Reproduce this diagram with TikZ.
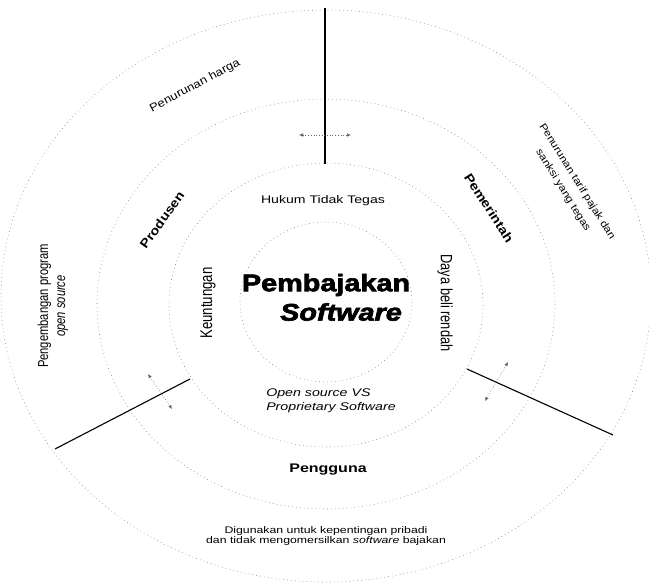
\documentclass[tikz,border=0pt]{standalone}
\usepackage{fontspec}
\setmainfont{Liberation Sans}
\newfontfamily\widefont[FakeStretch=1.15]{Liberation Sans}
\newfontfamily\heavyfont[FakeBold=2.5]{Liberation Sans Bold}
\newfontfamily\heavyitfont[FakeBold=2.5]{Liberation Sans Bold Italic}
\usetikzlibrary{arrows.meta}
\begin{document}
\begin{tikzpicture}[x=1pt,y=-1pt,
  ring/.style={draw=black!50, line width=0.55pt, dash pattern=on 0.7pt off 3.2pt},
  spoke/.style={draw=black, line width=1.1pt},
  dbl/.style={draw=black!60, line width=0.5pt, dash pattern=on 0.7pt off 2pt,
    {Latex[length=4pt,width=3.5pt]}-{Latex[length=4pt,width=3.5pt]}},
  lbl/.style={inner sep=0pt, align=center, text=black},
  fs/.style={font=\fontsize{#1}{#1}\selectfont},
]
\fill[white] (0,0) rectangle (649,584);
\useasboundingbox (0,0) rectangle (649,584);
\begin{scope}
\clip (0,0) rectangle (649,584);
\draw[ring] (326,302) ellipse [x radius=86, y radius=80];
\draw[ring] (326,305) ellipse [x radius=157, y radius=142];
\draw[ring] (326,304) ellipse [x radius=229, y radius=205];
\draw[ring] (326,296) ellipse [x radius=325, y radius=286];
\end{scope}

% spokes
\coordinate (topOut) at (325,8);
\coordinate (topIn) at (325,164);
\coordinate (leftIn) at (190,379);
\coordinate (leftOut) at (55,449);
\coordinate (rightIn) at (467,369);
\coordinate (rightOut) at (613,435);
\draw[spoke] (topOut) -- (topIn);
\draw[spoke] (leftIn) -- (leftOut);
\draw[spoke] (rightIn) -- (rightOut);

% small double arrows across spokes
\coordinate (ta) at (299,135);
\coordinate (tb) at (351,135);
\coordinate (la) at (148,374);
\coordinate (lb) at (172,409);
\coordinate (ra) at (508,362);
\coordinate (rb) at (485,401);
\draw[dbl] (ta) -- (tb);
\draw[dbl] (la) -- (lb);
\draw[dbl] (ra) -- (rb);

% texts
\node[lbl, font=\widefont\fontsize{11.3}{11.3}\selectfont, rotate=28] (harga) at (195,86) {Penurunan harga};
\node[lbl, fs=11, xscale=1.28] (hukum) at (323,201) {Hukum Tidak Tegas};
\node[lbl, font=\widefont\bfseries\fontsize{12.5}{12.5}\selectfont, rotate=54] (produsen) at (162,220) {Produsen};
\node[lbl, font=\widefont\bfseries\fontsize{12.7}{12.7}\selectfont, rotate=-57] (pemerintah) at (489,208) {Pemerintah};
\node[lbl, font=\widefont\fontsize{10.2}{16.5}\selectfont, rotate=-58] (tarif) at (570,186) {Penurunan tarif pajak dan\\sanksi yang tegas};
\node[lbl, font=\fontsize{11.2}{13.3}\selectfont, xscale=1.28, rotate=90] (pengembangan) at (53,306) {Pengembangan program\\\textit{open source}};
\node[lbl, fs=13.2, xscale=1.28, rotate=90] (keuntungan) at (208,303) {Keuntungan};
\node[lbl, fs=12.8, xscale=1.28, rotate=-90] (daya) at (445,303) {Daya beli rendah};
\node[lbl, font=\heavyfont\fontsize{24}{24}\selectfont, xscale=1.2] (pembajakan) at (326,285) {Pembajakan};
\node[lbl, font=\heavyitfont\fontsize{24}{24}\selectfont, xscale=1.2] (software) at (341,312) {Software};
\node[lbl, align=left, anchor=west, font=\itshape\fontsize{11.1}{14}\selectfont, xscale=1.28] (opensrc) at (266,401) {Open source VS\\Proprietary Software};
\node[lbl, font=\bfseries\fontsize{12.5}{12.5}\selectfont, xscale=1.28] (pengguna) at (328,470) {Pengguna};
\node[lbl, font=\fontsize{9.6}{10}\selectfont, xscale=1.28] (digunakan) at (326,536) {Digunakan untuk kepentingan pribadi\\dan tidak mengomersilkan \textit{software} bajakan};
\end{tikzpicture}
\end{document}
